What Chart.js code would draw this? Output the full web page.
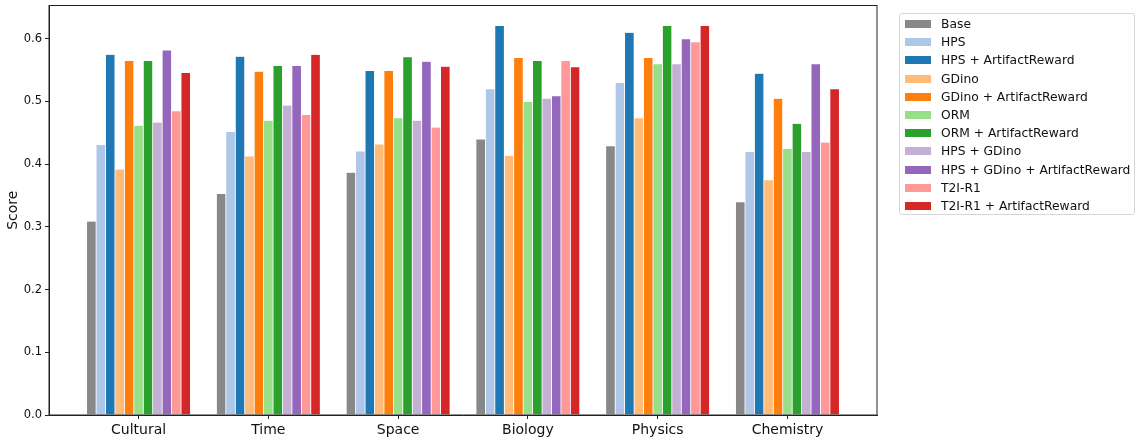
<!DOCTYPE html>
<html>
<head>
<meta charset="utf-8">
<script src="https://cdn.jsdelivr.net/npm/chart.js@4.4.1/dist/chart.umd.min.js"></script>
<style>
    html, body { margin: 0; padding: 0; background: #fff; }
    #wrap { position: relative; width: 1142px; height: 442px; }
    #legend {
        position: absolute; left: 899px; top: 13px; width: 236px; height: 202px;
        border: 1px solid #d6d6d6; border-radius: 3px; box-sizing: border-box;
        padding-top: 1px; font-family: 'DejaVu Sans', sans-serif; font-size: 12.3px; color: #111;
    }
    .row { display: flex; align-items: center; height: 18.2px; }
    .sw { width: 26px; height: 8px; margin-left: 5px; margin-right: 10px; }
</style>
</head>
<body>
<div id="wrap">
    <canvas id="chart" width="1142" height="442"></canvas>
    <div id="legend"></div>
</div>
<script>
const categories = ['Cultural', 'Time', 'Space', 'Biology', 'Physics', 'Chemistry'];
const yTicks = [0, 0.1, 0.2, 0.3, 0.4, 0.5, 0.6];

const seriesNames = [
    'Base', 'HPS', 'HPS + ArtifactReward', 'GDino', 'GDino + ArtifactReward',
    'ORM', 'ORM + ArtifactReward', 'HPS + GDino', 'HPS + GDino + ArtifactReward',
    'T2I-R1', 'T2I-R1 + ArtifactReward'
];
const seriesColors = [
    '#888888', '#aec7e8', '#1f77b4', '#ffbb78', '#ff7f0e',
    '#98df8a', '#2ca02c', '#c5b0d5', '#9467bd', '#ff9896', '#d62728'
];

const base       = [0.309, 0.353, 0.387, 0.440, 0.429, 0.340];
const hps        = [0.431, 0.452, 0.421, 0.520, 0.530, 0.420];
const hpsAR      = [0.575, 0.572, 0.549, 0.621, 0.610, 0.545];
const gdino      = [0.392, 0.413, 0.432, 0.414, 0.474, 0.375];
const gdinoAR    = [0.565, 0.548, 0.549, 0.570, 0.570, 0.505];
const orm        = [0.462, 0.470, 0.474, 0.500, 0.560, 0.425];
const ormAR      = [0.565, 0.557, 0.571, 0.565, 0.621, 0.465];
const hpsGdino   = [0.467, 0.494, 0.470, 0.505, 0.560, 0.420];
const hpsGdinoAR = [0.582, 0.557, 0.564, 0.509, 0.600, 0.560];
const t2i        = [0.485, 0.479, 0.459, 0.565, 0.595, 0.435];
const t2iAR      = [0.546, 0.575, 0.556, 0.555, 0.621, 0.520];

const seriesValues = [base, hps, hpsAR, gdino, gdinoAR, orm, ormAR, hpsGdino, hpsGdinoAR, t2i, t2iAR];

const FONT = "'DejaVu Sans', sans-serif";
const AXIS = '#222';

// frame around the plot area (matplotlib spines)
const frame = {
    id: 'frame',
    afterDraw(chart) {
        const { ctx, chartArea: a } = chart;
        ctx.save();
        ctx.strokeStyle = AXIS;
        ctx.lineWidth = 1;
        ctx.strokeRect(a.left, a.top, a.right - a.left, a.bottom - a.top);
        ctx.restore();
    }
};

new Chart(document.getElementById('chart'), {
    type: 'bar',
    data: {
        datasets: seriesNames.map((name, i) => ({
            label: name,
            data: seriesValues[i].map((v, j) => ({ x: j, y: v })),
            backgroundColor: seriesColors[i],
            borderColor: 'rgba(255,255,255,0.45)',
            borderWidth: 0.4,
            categoryPercentage: 0.8,
            barPercentage: 1.0
        }))
    },
    options: {
        responsive: false,
        animation: false,
        layout: { padding: { top: 5.5, right: 265, bottom: 0, left: 0 } },
        plugins: { legend: { display: false }, tooltip: { enabled: false } },
        scales: {
            x: {
                type: 'linear',
                min: -0.69,
                max: 5.69,
                offset: false,
                afterBuildTicks: s => { s.ticks = categories.map((c, i) => ({ value: i })); },
                afterFit: s => { s.height = 27; s.paddingLeft = 0; s.paddingRight = 0; },
                grid: { display: true, drawOnChartArea: false, offset: false, tickLength: 4, color: AXIS },
                border: { display: true, color: AXIS },
                ticks: {
                    color: '#111', padding: 3, maxRotation: 0,
                    font: { family: FONT, size: 14 },
                    callback: v => categories[v]
                }
            },
            y: {
                min: 0,
                max: 0.653,
                afterBuildTicks: s => { s.ticks = yTicks.map(v => ({ value: v })); },
                afterFit: s => { s.width = 49; s.paddingTop = 0; s.paddingBottom = 0; },
                grid: { display: true, drawOnChartArea: false, tickLength: 4, color: AXIS },
                border: { display: true, color: AXIS },
                title: {
                    display: true, text: 'Score', color: '#111',
                    font: { family: FONT, size: 14 }, padding: { top: 5, bottom: 0 }
                },
                ticks: {
                    color: '#111', padding: 3,
                    font: { family: FONT, size: 11.5 },
                    callback: v => v.toFixed(1)
                }
            }
        }
    },
    plugins: [frame]
});

// legend box on the right
const legend = document.getElementById('legend');
seriesNames.forEach((name, i) => {
    const row = document.createElement('div');
    row.className = 'row';
    row.innerHTML = '<span class="sw" style="background:' + seriesColors[i] + '"></span><span>' + name + '</span>';
    legend.appendChild(row);
});
</script>
</body>
</html>
